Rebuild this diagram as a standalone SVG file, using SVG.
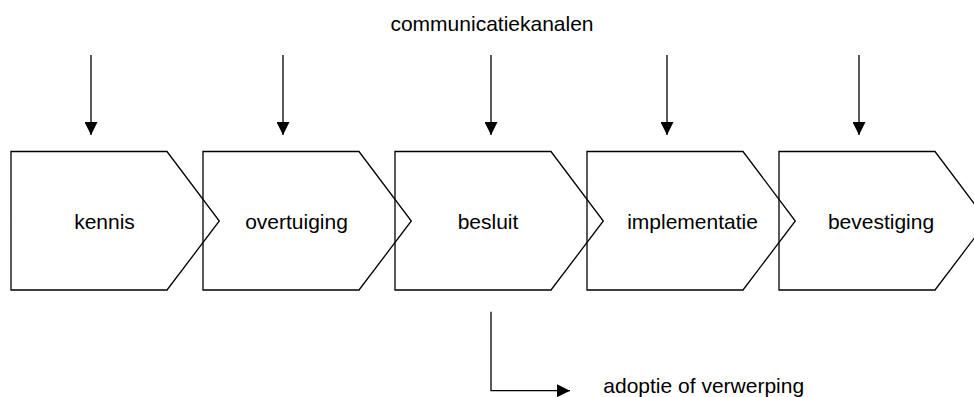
<svg xmlns="http://www.w3.org/2000/svg" width="974" height="397" viewBox="0 0 974 397">
<style>
.shape{fill:none;stroke:#000;stroke-width:1.3}
.lbl{font-family:"Liberation Sans",Arial,sans-serif;font-size:21px;fill:#000;text-anchor:middle}
.conn{fill:none;stroke:#000;stroke-width:1.3}
</style>
<defs>
<marker id="ah" markerUnits="userSpaceOnUse" markerWidth="13" markerHeight="13" refX="13" refY="6.5" orient="auto">
<path d="M0,0 L13,6.5 L0,13 z" fill="#000"/>
</marker>
</defs>
<rect width="974" height="397" fill="#fff"/>
<text class="lbl" x="492" y="31">communicatiekanalen</text>
<g id="kennis">
<path class="shape" d="M11,151.5 H167 L219.3,221 L167,290 H11 Z"/>
<text class="lbl" x="104.5" y="229">kennis</text>
</g>
<g id="overtuiging">
<path class="shape" d="M203,151.5 H359 L411.3,221 L359,290 H203 Z"/>
<text class="lbl" x="296.5" y="229">overtuiging</text>
</g>
<g id="besluit">
<path class="shape" d="M395,151.5 H551 L603.3,221 L551,290 H395 Z"/>
<text class="lbl" x="488" y="229">besluit</text>
</g>
<g id="implementatie">
<path class="shape" d="M587,151.5 H743 L795.3,221 L743,290 H587 Z"/>
<text class="lbl" x="692.5" y="229">implementatie</text>
</g>
<g id="bevestiging">
<path class="shape" d="M779,151.5 H935 L987.3,221 L935,290 H779 Z"/>
<text class="lbl" x="881" y="229">bevestiging</text>
</g>
<g id="connectors">
<path class="conn" d="M91,55 V135" marker-end="url(#ah)"/>
<path class="conn" d="M283,55 V135" marker-end="url(#ah)"/>
<path class="conn" d="M491,55 V135" marker-end="url(#ah)"/>
<path class="conn" d="M667,55 V135" marker-end="url(#ah)"/>
<path class="conn" d="M859,55 V135" marker-end="url(#ah)"/>
<path class="conn" d="M491,311.7 V390.7 H570" marker-end="url(#ah)"/>
</g>
<text class="lbl" x="603.3" y="392.5" style="text-anchor:start">adoptie of verwerping</text>
</svg>
